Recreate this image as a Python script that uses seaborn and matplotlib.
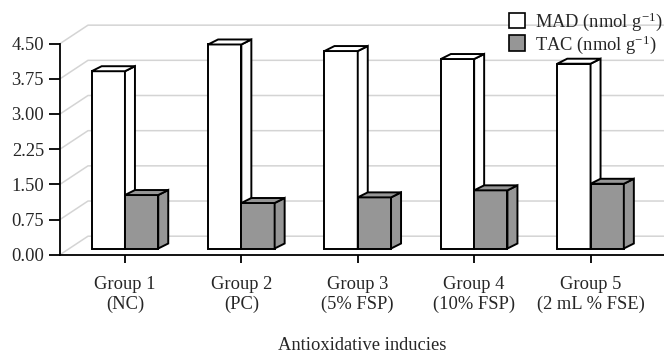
import matplotlib
matplotlib.use("Agg")
import matplotlib.pyplot as plt
import seaborn as sns
import pandas as pd
from matplotlib.patches import Patch

# Data
groups = ["Group 1\n(NC)", "Group 2\n(PC)", "Group 3\n(5% FSP)",
          "Group 4\n(10% FSP)", "Group 5\n(2 mL % FSE)"]
mad = [3.78, 4.35, 4.21, 4.04, 3.94]
tac = [1.14, 0.97, 1.09, 1.24, 1.38]
series = ["MAD (nmol g$^{-1}$)", "TAC (nmol g$^{-1}$)"]
yticks = [0.0, 0.75, 1.5, 2.25, 3.0, 3.75, 4.5]

df = pd.DataFrame({
    "group": groups * 2,
    "value": mad + tac,
    "index": [series[0]] * len(groups) + [series[1]] * len(groups),
})

sns.set_style("white")
plt.rcParams["font.family"] = ["Liberation Serif", "DejaVu Serif"]
plt.rcParams["mathtext.fontset"] = "custom"
plt.rcParams["mathtext.rm"] = "Liberation Serif"
plt.rcParams["mathtext.it"] = "Liberation Serif:italic"

FS = 13.3
W, H = 664, 354
fig = plt.figure(figsize=(W / 100, H / 100), dpi=100)
ax = fig.add_axes([60 / W, (H - 254.7) / H, (W - 60) / W, 254.7 / H])

colors = ["white", "#969696"]
sns.barplot(data=df, x="group", y="value", hue="index", palette=colors,
            edgecolor="black", linewidth=1.4, width=0.572, gap=0,
            legend=False, ax=ax)

xmin, xmax = -0.558, -0.558 + 604 / 116.4
ymin, ymax = 0.0, 254.7 / 46.9
ax.set_xlim(xmin, xmax)
ax.set_ylim(ymin, ymax)

px_x = 1 / 116.4   # data units per pixel (x)
px_y = 1 / 46.9    # data units per pixel (y)

# Back wall / side wall grid (oblique depth)
wall_dx, wall_dy = 28 * px_x, 18.5 * px_y
for v in yticks:
    ax.plot([xmin, xmin + wall_dx, xmax], [v, v + wall_dy, v + wall_dy],
            color="#d4d4d4", lw=1.1, zorder=1, solid_capstyle="butt")

# Bars with depth: front faces shifted into the floor, plus side and top faces
front_dy = 6.2 * px_y
bar_dx, bar_dy = 10 * px_x, 5 * px_y
for k, cont in enumerate(ax.containers):
    z = 3 + k
    for bar in cont:
        bar.set_y(bar.get_y() + front_dy)
        bar.set_zorder(z)
        x0 = bar.get_x()
        x1 = x0 + bar.get_width()
        y0 = bar.get_y()
        y1 = y0 + bar.get_height()
        fc = bar.get_facecolor()
        ax.fill([x1, x1 + bar_dx, x1 + bar_dx, x1],
                [y0, y0 + bar_dy, y1 + bar_dy, y1],
                facecolor=fc, edgecolor="black", lw=1.4, zorder=z,
                joinstyle="miter")
        ax.fill([x0, x0 + bar_dx, x1 + bar_dx, x1],
                [y1, y1 + bar_dy, y1 + bar_dy, y1],
                facecolor=fc, edgecolor="black", lw=1.4, zorder=z,
                joinstyle="miter")

# Axes styling
for s in ["top", "right"]:
    ax.spines[s].set_visible(False)
for s in ["left", "bottom"]:
    ax.spines[s].set_color("black")
    ax.spines[s].set_linewidth(1.3)
ax.spines["left"].set_bounds(0, 4.5)
ax.set_yticks(yticks)
ax.set_yticklabels([f"{v:.2f}" for v in yticks])
ax.tick_params(axis="y", direction="out", length=8, width=1.3, pad=3.5,
               labelsize=FS, left=True, color="black")
ax.tick_params(axis="x", direction="out", length=5.5, width=1.3, pad=10,
               labelsize=FS, bottom=True, color="black")
for t in ax.get_xticklabels():
    t.set_linespacing(1.2)
ax.set_ylabel("")
ax.set_xlabel("Antioxidative inducies", fontsize=FS, labelpad=17)

# Legend
handles = [Patch(facecolor=c, edgecolor="black", linewidth=1.2) for c in colors]
fig.legend(handles, series, loc="upper left", bbox_to_anchor=(503 / W, 1 - 5 / H),
           frameon=False, fontsize=FS, handlelength=0.9, handleheight=0.9,
           handletextpad=0.55, labelspacing=0.0, borderpad=0.3,
           borderaxespad=0)

fig.savefig("out.png", dpi=100)
